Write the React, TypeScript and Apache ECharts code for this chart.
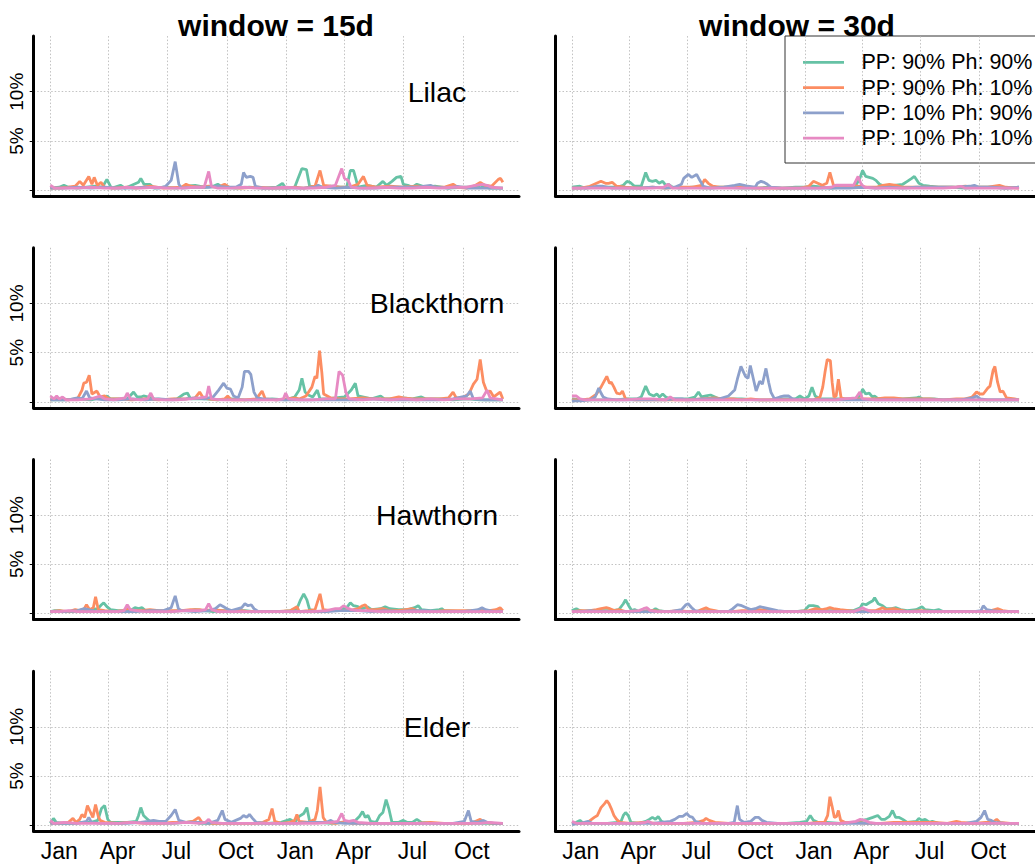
import React, { useEffect, useRef } from "react";
import * as echarts from "echarts";

// ---------- data (x = week index from Jan 1 of year 1, y = percent) ----------
const SERIES_NAMES = ["PP: 90% Ph: 90%", "PP: 90% Ph: 10%", "PP: 10% Ph: 90%", "PP: 10% Ph: 10%"];
const COLORS = ["#66c2a5", "#fc8d62", "#8da0cb", "#e78ac3"];
const COLUMN_TITLES = ["window = 15d", "window = 30d"];
const ROW_LABELS = ["Lilac", "Blackthorn", "Hawthorn", "Elder"];
const MONTH_DAYS = [0, 90, 181, 273, 365, 455, 546, 638];
const MONTH_LABELS = ["Jan", "Apr", "Jul", "Oct", "Jan", "Apr", "Jul", "Oct"];
const Y_TICKS = [0, 5, 10];
const Y_LABEL_TICKS = [5, 10];

// Lilac, 15d
const lilac15Green = [[0,0.2],[2,0.3],[3,0.5],[4,0.3],[6,0.2],[8,0.3],[10,0.4],[11.5,0.3],[12.5,1.1],[13.5,0.2],[15.5,0.5],[16.5,0.2],[18,0.5],[19.5,0.8],[20,1.2],[20.7,0.6],[22,0.6],[23,0.2],[25,0.3],[28,0.2],[30,0.4],[32,0.5],[34,0.3],[36,0.4],[37,0.6],[38,0.3],[41,0.2],[44,0.3],[47,0.2],[50,0.3],[51.3,0.7],[52,0.2],[54,0.3],[55,1.5],[55.6,2.2],[56.6,2.1],[57.3,0.4],[59,0.3],[62,0.4],[64,0.3],[65.5,0.3],[66.3,2.0],[67,2.0],[67.5,1.2],[68,0.3],[70,0.5],[72,0.3],[73.5,0.9],[74.3,0.5],[75.5,0.9],[76.5,1.3],[77.5,1.4],[78,0.6],[79,0.5],[80,0.3],[81,0.6],[83,0.3],[85,0.4],[88,0.2],[91,0.3],[94,0.3],[95,0.5],[97,0.2],[100,0.2]];
const lilac15Orange = [[0,0.2],[2,0.2],[4,0.3],[5.5,0.4],[6.5,0.9],[7.3,0.5],[8.5,1.4],[9.2,0.6],[9.7,1.3],[10.4,0.5],[11.2,0.8],[12,0.3],[14,0.2],[17,0.3],[19,0.2],[22,0.4],[25,0.2],[29,0.3],[30,0.6],[31,0.4],[33,0.3],[35,0.4],[37,0.3],[38.5,0.6],[39.5,0.3],[42,0.2],[46,0.3],[49,0.2],[52,0.2],[54,0.3],[56,0.2],[58.5,0.4],[59.6,2.0],[60.4,0.5],[62,0.4],[64,0.3],[66,0.3],[68,0.6],[69.2,1.4],[70,0.5],[72,0.3],[75,0.4],[78,0.3],[81,0.4],[84,0.3],[87,0.3],[89,0.6],[90,0.3],[92,0.2],[94,0.5],[95,0.8],[96,0.5],[97.5,0.4],[99,1.1],[99.5,1.2],[100,0.8]];
const lilac15Blue = [[0,0.2],[3,0.2],[6,0.3],[9,0.2],[12,0.3],[15,0.2],[18,0.2],[21,0.3],[24,0.2],[25.5,0.4],[26.7,1.0],[27.6,2.9],[28.4,0.6],[29,0.2],[32,0.3],[35,0.3],[37,0.4],[39,0.3],[41,0.3],[42.2,0.6],[42.7,1.8],[43.3,1.3],[44.2,1.4],[44.8,1.3],[45.3,0.4],[47,0.2],[50,0.2],[53,0.2],[56,0.2],[58.5,0.3],[59.2,0.5],[60,0.3],[63,0.2],[66,0.3],[69,0.2],[72,0.2],[75,0.3],[78,0.3],[81,0.3],[84,0.5],[85,0.3],[88,0.2],[90,0.4],[92,0.2],[95,0.2],[98,0.2],[100,0.2]];
const lilac15Pink = [[0,0.5],[1,0.2],[3,0.2],[6,0.2],[9,0.3],[12,0.2],[15,0.2],[17,0.3],[20,0.2],[23,0.3],[26,0.2],[29,0.2],[32,0.3],[34,0.3],[35,1.9],[35.6,0.4],[37,0.2],[40,0.2],[43,0.3],[46,0.2],[49,0.2],[52,0.3],[55,0.2],[58,0.2],[61,0.3],[63,0.5],[64.4,2.2],[65,1.2],[65.8,1.0],[66.5,0.3],[68,0.2],[71,0.2],[74,0.3],[77,0.2],[80,0.2],[83,0.3],[86,0.2],[89,0.3],[92,0.3],[94,0.5],[95.5,0.6],[96.5,0.5],[97.5,0.3],[100,0.2]];

// Lilac, 30d
const lilac30Green = [[0,0.3],[1.8,0.4],[3,0.2],[5,0.3],[8,0.3],[10,0.3],[11.5,0.5],[12.3,0.9],[13,0.8],[14,0.4],[15.5,0.4],[16.5,1.8],[17.2,1.0],[18,0.9],[18.8,1.0],[19.5,0.7],[20.3,0.9],[21,0.5],[21.6,0.6],[22.5,0.3],[24,0.2],[27,0.3],[30,0.2],[33,0.3],[35,0.3],[38,0.2],[41,0.2],[44,0.3],[47,0.2],[50,0.3],[52,0.3],[54,0.4],[56,0.3],[58,0.2],[60,0.3],[62,0.3],[63.5,0.5],[64.4,1.2],[65,2.0],[65.7,1.4],[66.5,1.3],[67.3,1.2],[68,1.0],[68.8,0.6],[70,0.4],[72,0.5],[74,0.6],[75,0.9],[76,1.2],[76.6,1.4],[77.6,0.7],[78.5,0.5],[80,0.4],[82,0.3],[85,0.3],[88,0.2],[91,0.3],[94,0.3],[97,0.2],[100,0.3]];
const lilac30Orange = [[0,0.2],[2,0.2],[4,0.4],[5,0.6],[6.5,0.9],[7.5,0.7],[8.2,0.7],[9,0.8],[10,0.4],[12,0.3],[15,0.2],[18,0.3],[21,0.2],[24,0.3],[27,0.3],[29,0.5],[29.7,1.1],[30.5,0.7],[31.5,0.4],[33,0.3],[36,0.3],[39,0.3],[42,0.2],[45,0.2],[48,0.2],[51,0.2],[53,0.4],[54,0.9],[55,0.7],[56,0.5],[57,0.7],[57.7,1.8],[58.5,0.5],[60,0.4],[62,0.5],[64,0.4],[66,0.3],[68,0.3],[69.5,0.5],[71,0.6],[72.5,0.5],[74,0.3],[77,0.3],[80,0.3],[83,0.3],[86,0.3],[88,0.4],[90,0.3],[93,0.3],[95.6,0.5],[97,0.3],[100,0.2]];
const lilac30Blue = [[0,0.2],[3,0.2],[5.5,0.4],[7,0.4],[9,0.2],[12,0.2],[15,0.2],[18,0.3],[21,0.2],[23,0.3],[24.5,0.6],[25,1.2],[26,1.6],[26.8,1.3],[27.9,1.6],[28.6,1.0],[29.4,0.4],[31,0.2],[34,0.3],[36.4,0.5],[37.5,0.6],[38.5,0.5],[39.3,0.4],[41,0.3],[41.5,0.7],[42.3,0.9],[43,0.8],[43.7,0.6],[44.5,0.3],[47,0.2],[50,0.2],[53,0.2],[56,0.2],[59,0.2],[62,0.2],[65,0.3],[68,0.2],[71,0.3],[74,0.2],[77,0.3],[80,0.3],[83,0.3],[86,0.3],[89,0.4],[90,0.5],[91,0.3],[94,0.3],[97,0.2],[100,0.3]];
const lilac30Pink = [[0,0.2],[3,0.2],[6,0.2],[9,0.2],[12,0.2],[15,0.2],[18,0.2],[20.5,0.3],[21.6,0.6],[22.5,0.2],[25,0.2],[28,0.2],[31,0.2],[34,0.2],[37,0.2],[40,0.2],[43,0.2],[46,0.2],[49,0.2],[52,0.2],[55,0.2],[58,0.3],[59,0.5],[61,0.5],[63,0.5],[64,1.4],[64.7,0.6],[65.5,0.3],[68,0.2],[71,0.2],[74,0.2],[77,0.2],[80,0.2],[83,0.2],[86,0.3],[87,0.4],[88,0.2],[91,0.2],[94,0.2],[97,0.2],[100,0.2]];

// Blackthorn, 15d
const black15Green = [[0,0.2],[3,0.2],[6,0.3],[9,0.2],[11,0.4],[12.5,0.6],[13.3,0.3],[15,0.3],[17,0.3],[18.4,1.0],[19.2,0.5],[20,0.5],[20.6,0.6],[21.5,0.5],[23,0.3],[26,0.2],[28,0.3],[29.5,0.8],[30.3,0.9],[31,0.3],[34,0.3],[37,0.2],[40,0.3],[43,0.2],[46,0.2],[49,0.3],[52,0.2],[54,0.5],[55,1.2],[55.6,2.4],[56.3,1.0],[57,0.7],[58,0.5],[59,1.2],[59.6,0.3],[61,0.3],[63,0.4],[65,0.5],[66.5,1.2],[67.4,1.9],[68,0.6],[69,0.5],[71,0.3],[73,0.6],[73.8,0.3],[76,0.3],[78,0.4],[80,0.3],[82,0.5],[83,0.3],[86,0.3],[89,0.2],[92,0.3],[95,0.2],[98,0.2],[100,0.2]];
const black15Orange = [[0,0.2],[2,0.3],[4,0.2],[6,0.3],[7,1.2],[7.4,1.9],[8,2.0],[8.6,2.7],[9.2,0.8],[10.3,1.1],[11,0.5],[12,0.6],[13,0.3],[15,0.3],[18,0.2],[21,0.3],[24,0.2],[27,0.3],[30,0.3],[32,0.4],[33,1.0],[33.8,0.4],[35,0.3],[37,0.2],[38.5,0.3],[39.2,0.6],[40,0.2],[43,0.2],[45.5,0.3],[46.8,1.1],[47.5,0.3],[50,0.2],[52,0.3],[54,0.4],[55,0.3],[56.5,0.6],[57.8,1.5],[58.5,2.6],[58.9,2.4],[59.5,5.2],[60,3.0],[60.4,0.8],[62,0.4],[64,0.3],[66,0.3],[69,0.4],[72,0.3],[75,0.3],[77,0.5],[78,0.4],[80,0.3],[83,0.3],[86,0.3],[88,0.4],[89,1.0],[89.7,0.4],[91,0.4],[92.5,0.8],[93.5,1.8],[94.3,2.3],[95,4.3],[95.7,2.0],[96.5,1.0],[97.2,1.1],[98,0.5],[99.4,1.0],[100,0.3]];
const black15Blue = [[0,0.2],[2,0.2],[4,0.2],[6,0.4],[7,0.3],[8,1.1],[8.7,0.4],[10,0.3],[12,0.2],[15,0.2],[18,0.3],[21,0.2],[24,0.3],[27,0.2],[30,0.3],[32,0.4],[34,0.3],[36,0.5],[37.2,1.2],[38.3,1.9],[39,1.4],[39.8,1.3],[40.5,0.6],[41.5,0.4],[42.4,1.5],[42.9,3.1],[43.8,3.1],[44.3,2.8],[45,1.0],[45.7,0.4],[47,0.3],[50,0.2],[53,0.2],[56,0.2],[59,0.2],[62,0.2],[65,0.2],[68,0.2],[71,0.3],[74,0.2],[77,0.2],[80,0.2],[83,0.2],[86,0.2],[89,0.3],[91,0.5],[92,0.6],[92.8,1.1],[93.5,0.3],[96,0.2],[98,0.2],[100,0.2]];
const black15Pink = [[0,0.6],[0.8,0.3],[1.4,0.6],[2,0.3],[2.7,0.5],[3.5,0.2],[6,0.2],[9,0.3],[11,0.6],[12,0.3],[14,0.2],[16.5,0.4],[17,0.9],[17.7,0.3],[20,0.2],[21.5,0.3],[22.2,0.9],[22.8,0.3],[25,0.2],[28,0.2],[31,0.3],[33,0.4],[34.5,0.5],[35,1.6],[35.6,0.3],[38,0.2],[41,0.2],[44,0.2],[47,0.2],[50,0.2],[51.5,0.3],[52,0.9],[52.6,0.3],[55,0.2],[58,0.2],[61,0.3],[63,0.3],[63.8,3.1],[64.6,2.7],[65.3,1.0],[66,0.3],[69,0.2],[72,0.3],[75,0.2],[78,0.3],[81,0.2],[84,0.3],[87,0.2],[90,0.3],[93,0.3],[95.5,0.4],[96.5,1.2],[97.2,0.4],[100,0.2]];

// Blackthorn, 30d
const black30Green = [[0,0.3],[2,0.2],[4,0.2],[7,0.2],[10,0.2],[12,0.3],[13,0.3],[14.5,0.3],[15.5,0.5],[16.5,1.6],[17.3,0.8],[18.3,0.6],[19,0.8],[19.6,0.5],[20.3,0.8],[21,0.5],[22,0.3],[24,0.3],[26,0.3],[27.5,0.5],[28.3,1.0],[29,0.5],[30,0.6],[31,0.7],[32,0.5],[33,0.3],[35,0.3],[38,0.3],[41,0.2],[44,0.2],[47,0.3],[50,0.3],[51,0.6],[52,0.3],[53,0.6],[53.7,1.5],[54.4,0.6],[55.5,0.3],[58,0.3],[61,0.3],[63,0.3],[64.5,0.6],[65,1.3],[65.7,0.8],[66.5,0.9],[67.2,0.5],[67.7,0.6],[68.5,0.3],[71,0.3],[74,0.3],[77,0.4],[77.6,0.5],[78.5,0.3],[81,0.3],[83,0.2],[86,0.2],[89,0.2],[92,0.2],[95,0.2],[98,0.2],[100,0.2]];
const black30Orange = [[0,0.2],[2,0.2],[4,0.3],[5.5,0.8],[6.5,1.5],[7.8,2.6],[8.4,1.9],[8.8,2.0],[9.4,1.5],[10,0.9],[10.8,0.8],[11.3,1.1],[12,0.3],[14,0.2],[17,0.2],[20,0.2],[23,0.2],[26,0.2],[29,0.3],[32,0.4],[34,0.3],[36,0.3],[38,0.2],[40,0.3],[42,0.2],[44,0.2],[47,0.2],[50,0.2],[52,0.2],[54,0.2],[55.5,0.5],[56.1,1.5],[56.6,3.0],[57.1,4.3],[57.8,4.2],[58.2,2.0],[58.6,0.5],[59.1,0.6],[59.6,2.3],[60.2,0.4],[61,0.3],[63,0.3],[65,0.3],[68,0.3],[70,0.4],[72,0.4],[74,0.3],[77,0.3],[80,0.3],[83,0.2],[86,0.3],[88,0.3],[89.5,0.5],[90.5,1.0],[91.2,0.8],[92,0.8],[93,1.4],[93.5,1.6],[94.2,3.2],[94.6,3.6],[95.2,2.0],[95.8,1.0],[96.4,1.1],[97.2,0.4],[99,0.3],[100,0.2]];
const black30Blue = [[0,0.1],[2,0.1],[4,0.2],[5.2,0.5],[6,1.4],[6.5,0.9],[7,0.5],[8,0.3],[10,0.2],[12,0.2],[15,0.2],[18,0.2],[21,0.2],[23,0.3],[24.6,0.3],[25.5,0.2],[27,0.2],[29,0.3],[31,0.3],[33,0.3],[35,0.6],[36.4,1.2],[37,2.3],[37.8,3.6],[38.3,3.1],[38.8,2.6],[39.4,2.4],[39.9,3.7],[40.5,2.5],[41.2,1.1],[42,2.1],[42.6,1.8],[43.4,3.4],[44,2.0],[44.5,1.0],[45.3,0.3],[46.5,0.5],[47.5,0.6],[48.5,0.6],[49.3,0.3],[51,0.2],[54,0.2],[57,0.2],[60,0.2],[63,0.2],[66,0.2],[69,0.2],[72,0.2],[75,0.2],[78,0.2],[81,0.2],[84,0.2],[87,0.2],[89.5,0.4],[90.5,0.6],[91.3,0.3],[93,0.2],[96,0.2],[100,0.2]];
const black30Pink = [[0,0.6],[1,0.6],[1.8,0.3],[3,0.2],[6,0.2],[9,0.2],[12,0.2],[15,0.3],[18,0.3],[21,0.2],[22,0.5],[23,0.2],[26,0.2],[29,0.2],[32,0.2],[35,0.2],[38,0.2],[41,0.2],[44,0.2],[47,0.2],[50,0.2],[53,0.2],[56,0.2],[59,0.2],[61,0.3],[63.5,0.4],[64.4,1.0],[65,0.3],[68,0.2],[71,0.2],[74,0.2],[77,0.2],[80,0.2],[83,0.2],[86,0.2],[89,0.2],[92,0.2],[95,0.2],[98,0.2],[100,0.2]];

// Hawthorn, 15d
const haw15Green = [[0,0.2],[1,0.3],[2,0.3],[3,0.2],[5,0.2],[7,0.3],[9,0.4],[10.5,0.5],[11.3,0.9],[11.8,1.1],[12.5,0.7],[13.3,0.4],[15,0.3],[17,0.3],[18,0.4],[18.7,0.6],[19.5,0.5],[20.3,0.6],[21,0.3],[23,0.2],[26,0.2],[29,0.3],[31,0.3],[32,0.4],[34,0.3],[36,0.2],[38,0.3],[41,0.3],[43,0.3],[45,0.2],[48,0.2],[51,0.2],[53,0.3],[54.5,0.5],[55.3,1.4],[56,2.0],[56.7,1.4],[57.3,0.4],[59,0.2],[62,0.3],[64,0.4],[65.5,0.6],[66.3,1.1],[67,0.8],[68,0.7],[69,0.5],[70,0.7],[71,0.4],[73,0.5],[74,0.7],[75,0.5],[77,0.4],[79,0.4],[80.5,0.6],[81.3,0.8],[82,0.4],[84,0.3],[86,0.4],[86.5,0.5],[87,0.3],[91,0.2],[94,0.3],[97,0.3],[100,0.3]];
const haw15Orange = [[0,0.2],[2,0.3],[4,0.2],[5.5,0.4],[6.5,0.3],[7.5,0.5],[8,0.9],[8.7,0.4],[9.5,0.6],[10,1.7],[10.6,0.4],[12,0.3],[14,0.2],[16,0.3],[17.3,0.5],[18,0.3],[20,0.3],[22,0.4],[24,0.3],[26,0.3],[29,0.3],[31,0.4],[33,0.4],[34,0.3],[36,0.4],[38,0.3],[40,0.2],[42,0.3],[44,0.2],[47,0.2],[50,0.2],[53,0.3],[54.5,0.7],[55,0.2],[57,0.3],[58.5,0.4],[59.6,2.0],[60.3,0.4],[62,0.3],[64,0.3],[66,0.3],[68,0.5],[69,0.8],[69.6,0.9],[70.3,0.4],[72,0.4],[73.5,0.5],[75,0.3],[77,0.3],[78.5,0.4],[80,0.5],[81,0.3],[83,0.2],[85,0.2],[87,0.3],[91,0.3],[93,0.3],[95,0.3],[97,0.3],[98.5,0.4],[99.4,0.6],[100,0.3]];
const haw15Blue = [[0,0.2],[3,0.2],[6,0.3],[7.5,0.5],[8.5,0.4],[10,0.2],[13,0.2],[16,0.2],[19,0.2],[22,0.3],[25,0.3],[26.7,0.6],[27.6,1.8],[28.3,0.5],[29,0.3],[32,0.2],[35,0.3],[36.5,0.5],[37.5,0.9],[38.3,0.7],[39,0.5],[40,0.3],[42.3,0.6],[43,1.0],[43.7,0.8],[44.4,0.9],[45,0.5],[46,0.2],[49,0.2],[52,0.2],[55,0.2],[58,0.2],[61,0.2],[64,0.3],[66,0.3],[68,0.3],[71,0.2],[74,0.3],[77,0.2],[80,0.3],[83,0.3],[86,0.2],[91,0.2],[93,0.3],[94.5,0.4],[95.4,0.6],[96.2,0.4],[98,0.2],[100,0.2]];
const haw15Pink = [[0,0.2],[2,0.2],[4,0.3],[6,0.2],[9,0.2],[12,0.2],[15,0.2],[16.3,0.3],[17,0.9],[17.7,0.4],[19,0.3],[21,0.2],[24,0.2],[27,0.2],[30,0.3],[33,0.3],[34.3,0.4],[35,1.0],[35.7,0.4],[37,0.2],[40,0.2],[43,0.2],[46,0.2],[49,0.2],[52,0.2],[55,0.2],[58,0.2],[61,0.3],[62,0.4],[63,0.5],[64,0.5],[64.8,0.8],[65.5,0.6],[66.5,0.4],[68,0.3],[70,0.3],[73,0.2],[76,0.2],[79,0.2],[82,0.2],[85,0.2],[91,0.2],[94,0.2],[97,0.2],[100,0.2]];

// Hawthorn, 30d
const haw30Green = [[0,0.3],[1,0.5],[1.8,0.3],[3,0.2],[5,0.2],[7,0.3],[9,0.3],[10.5,0.4],[11.5,1.0],[12,1.4],[12.7,0.8],[13.4,0.3],[14,0.4],[15,0.2],[17,0.3],[18,0.3],[18.7,0.5],[19.5,0.3],[21,0.2],[23,0.2],[26,0.2],[28,0.2],[30,0.3],[32,0.2],[35,0.2],[38,0.2],[41,0.3],[44,0.2],[47,0.2],[50,0.2],[52,0.3],[53,0.8],[54,0.8],[55,0.7],[55.7,0.3],[57,0.3],[60,0.3],[63,0.3],[64.5,0.6],[65,1.0],[65.8,0.9],[66.5,1.1],[67.3,1.3],[67.7,1.6],[68.5,1.0],[69.5,0.8],[70.3,0.5],[71.5,0.5],[72.5,0.6],[73.5,0.4],[75,0.3],[77,0.4],[78.3,0.7],[79,0.4],[81,0.3],[82,0.4],[83,0.2],[86,0.2],[90,0.2],[94,0.2],[97,0.2],[100,0.2]];
const haw30Orange = [[0,0.2],[2,0.3],[4,0.3],[5.5,0.4],[6.5,0.5],[7.7,0.6],[8.5,0.5],[9.5,0.3],[10.5,0.4],[12,0.2],[15,0.2],[18,0.3],[21,0.2],[24,0.3],[26,0.2],[28,0.2],[29,0.4],[30,0.6],[30.8,0.4],[32,0.3],[33,0.2],[36,0.2],[38,0.3],[40,0.3],[42,0.4],[44,0.3],[47,0.2],[50,0.2],[53,0.3],[54.5,0.5],[56,0.4],[57,0.5],[57.7,0.6],[58.5,0.5],[60,0.4],[62,0.3],[64,0.2],[66,0.3],[68,0.3],[69.5,0.6],[70.3,0.4],[72,0.5],[73,0.4],[75,0.2],[78,0.3],[81,0.2],[84,0.2],[87,0.2],[90,0.2],[93,0.2],[95.3,0.5],[96.3,0.3],[98,0.2],[100,0.2]];
const haw30Blue = [[0,0.2],[2,0.2],[4,0.3],[6,0.2],[8,0.2],[10,0.2],[13,0.2],[16,0.2],[19,0.2],[22,0.2],[24.5,0.4],[25.5,0.9],[26,1.0],[26.8,0.6],[27.5,0.3],[29,0.2],[32,0.2],[35,0.2],[36,0.5],[37,0.9],[38,0.8],[39,0.6],[40,0.4],[41,0.5],[42,0.7],[43,0.6],[44,0.5],[45,0.4],[46,0.3],[48,0.2],[51,0.2],[54,0.2],[57,0.2],[60,0.2],[63,0.2],[66,0.2],[69,0.2],[72,0.2],[75,0.2],[78,0.2],[81,0.2],[84,0.2],[87,0.2],[90,0.2],[91.5,0.3],[92,0.8],[92.8,0.4],[94,0.3],[96,0.2],[100,0.2]];
const haw30Pink = [[0,0.2],[3,0.2],[6,0.2],[9,0.2],[12,0.2],[15,0.3],[16,0.5],[16.8,0.6],[17.5,0.3],[19,0.2],[22,0.2],[25,0.2],[28,0.2],[31,0.2],[34,0.2],[37,0.2],[40,0.2],[43,0.2],[46,0.2],[49,0.2],[52,0.2],[55,0.2],[58,0.2],[61,0.2],[63,0.2],[64.2,0.4],[65,0.6],[65.8,0.4],[67,0.2],[70,0.2],[73,0.2],[76,0.2],[79,0.2],[82,0.2],[85,0.2],[88,0.2],[91,0.2],[94,0.2],[97,0.2],[100,0.2]];

// Elder, 15d
const elder15Green = [[0,0.2],[0.7,0.7],[1.3,0.3],[3,0.2],[5,0.2],[7,0.3],[9,0.3],[10.5,0.5],[11.3,1.7],[12,2.0],[12.7,0.6],[13.3,0.3],[15,0.3],[17,0.3],[19,0.4],[19.5,1.0],[20,1.8],[20.6,1.0],[21.3,0.7],[22,0.4],[24,0.2],[27,0.2],[30,0.3],[31.7,0.4],[33,0.2],[36,0.2],[39,0.2],[42,0.2],[45,0.2],[48,0.2],[51,0.3],[53,0.6],[54,0.3],[55,0.9],[56,1.2],[56.7,1.8],[57.3,0.4],[59,0.3],[62,0.2],[65,0.3],[67,0.3],[68.3,0.9],[69,1.4],[69.6,0.8],[70.2,1.0],[70.8,0.4],[72,0.3],[72.8,1.0],[73.5,1.3],[74.2,2.6],[74.8,1.7],[75.5,0.3],[77,0.3],[78,0.5],[78.8,0.3],[80,0.3],[81,0.6],[82,0.3],[85,0.2],[88,0.2],[91,0.2],[94,0.2],[97,0.2],[100,0.2]];
const elder15Orange = [[0,0.2],[2,0.2],[4,0.3],[5,0.7],[5.7,0.3],[6.5,0.6],[7,1.1],[7.6,0.8],[8.2,2.0],[8.8,1.4],[9.4,0.8],[10,2.1],[10.6,0.9],[11,0.5],[12,0.3],[15,0.2],[18,0.3],[21,0.2],[24,0.2],[27,0.3],[30,0.3],[31.5,0.4],[32.8,0.8],[33.5,0.3],[36,0.2],[39,0.2],[42,0.2],[45,0.2],[47,0.3],[48.3,0.6],[49,1.7],[49.6,0.4],[51,0.2],[53,0.3],[54,0.5],[54.5,1.1],[55,0.4],[57,0.3],[58.5,0.6],[59,1.5],[59.6,3.9],[60.3,0.8],[61,0.3],[63,0.2],[65.5,0.4],[66.5,0.2],[69,0.2],[72,0.2],[75,0.2],[78,0.2],[81,0.2],[84,0.3],[87,0.2],[90,0.2],[93,0.2],[94,0.4],[95,0.6],[95.8,0.3],[98,0.2],[100,0.2]];
const elder15Blue = [[0,0.2],[3,0.2],[6,0.2],[8,0.4],[8.5,0.8],[9.1,0.3],[11,0.2],[14,0.2],[17,0.2],[20,0.3],[21.5,0.4],[22.8,0.5],[24,0.4],[25.5,0.4],[26.7,1.0],[27.6,1.6],[28.4,0.5],[30,0.3],[33,0.3],[35,0.2],[37,0.5],[38,1.5],[38.6,0.6],[40,0.3],[42,0.7],[42.7,1.0],[43.4,0.8],[44,1.1],[44.7,0.7],[45.5,0.3],[48,0.2],[51,0.2],[54,0.2],[57,0.3],[59,0.3],[61,0.3],[62,0.5],[62.7,0.3],[65,0.2],[68,0.2],[71,0.2],[74,0.2],[77,0.2],[80,0.2],[83,0.2],[86,0.2],[89,0.2],[91.5,0.4],[92.4,1.5],[93,0.4],[94.5,0.3],[95.7,0.5],[96.5,0.3],[98,0.2],[100,0.2]];
const elder15Pink = [[0,0.5],[0.7,0.2],[3,0.3],[6,0.2],[9,0.2],[12,0.2],[15,0.2],[18,0.3],[21,0.2],[24,0.2],[27,0.2],[30,0.3],[33,0.2],[34.3,0.3],[35,0.6],[35.6,0.3],[38,0.2],[41,0.2],[44,0.2],[47,0.2],[50,0.2],[53,0.2],[56,0.2],[59,0.2],[62,0.3],[63.5,0.4],[64.4,1.2],[65,0.5],[66,0.4],[67,0.5],[68,0.3],[71,0.2],[74,0.2],[77,0.2],[80,0.2],[83,0.2],[86,0.2],[89,0.2],[92,0.2],[95,0.2],[97,0.3],[100,0.2]];

// Elder, 30d
const elder30Green = [[0,0.2],[1,0.3],[1.8,0.5],[2.5,0.2],[4,0.2],[6,0.2],[8,0.2],[10,0.3],[11,0.4],[11.5,1.0],[12,1.3],[12.6,1.0],[13.2,0.3],[15,0.2],[16.5,0.4],[17.3,0.6],[18,0.8],[18.7,0.6],[19.3,0.9],[20,0.4],[21,0.2],[24,0.2],[27,0.2],[28,0.3],[30,0.2],[33,0.2],[36,0.2],[39,0.2],[42,0.2],[45,0.2],[48,0.2],[51,0.3],[52.5,0.4],[53.3,1.0],[54,0.5],[55,0.3],[57,0.3],[60,0.2],[62,0.3],[64,0.3],[65,0.5],[66,0.6],[67.3,0.8],[68.4,1.0],[69.2,0.6],[70,0.6],[71,0.9],[71.7,1.5],[72.4,0.8],[73.2,0.8],[74,0.6],[75,0.3],[77,0.4],[77.6,0.7],[78.3,0.5],[79,0.6],[80,0.3],[80.6,0.4],[82,0.2],[85,0.2],[88,0.2],[91,0.2],[94,0.2],[97,0.2],[100,0.2]];
const elder30Orange = [[0,0.2],[2,0.2],[3.5,0.3],[5,0.8],[5.7,1.0],[6.5,1.8],[7.3,2.2],[7.8,2.5],[8.3,2.2],[8.8,1.7],[9.4,1.0],[10,0.6],[10.7,0.3],[13,0.2],[16,0.3],[19,0.2],[22,0.2],[25,0.2],[28,0.3],[29.5,0.5],[30,0.7],[30.7,0.5],[32,0.3],[35,0.2],[38,0.2],[41,0.2],[44,0.2],[47,0.2],[50,0.2],[53,0.2],[55,0.3],[56.5,0.3],[57.2,1.0],[57.7,2.9],[58.2,1.9],[58.7,0.8],[59.2,0.9],[59.6,1.5],[60.1,0.5],[61,0.3],[63,0.3],[66,0.2],[69,0.2],[72,0.3],[75,0.3],[78,0.3],[81,0.3],[84,0.2],[86,0.4],[87,0.3],[90,0.2],[92.5,0.3],[94,0.3],[95,0.6],[95.7,0.3],[98,0.2],[100,0.2]];
const elder30Blue = [[0,0.1],[2,0.2],[3.6,0.4],[4.5,0.2],[6,0.2],[9,0.2],[12,0.2],[15,0.2],[18,0.2],[20,0.3],[22,0.4],[23,0.6],[24,0.9],[24.8,0.9],[25.7,1.2],[26.3,0.9],[27,0.8],[27.6,0.4],[29,0.2],[32,0.2],[35,0.2],[36.3,0.3],[37,2.0],[37.5,0.6],[38.5,0.3],[40,0.4],[41,0.8],[41.8,0.8],[42.5,0.5],[43.5,0.3],[46,0.2],[49,0.2],[52,0.2],[55,0.2],[58,0.2],[61,0.2],[64,0.2],[67,0.2],[70,0.2],[73,0.2],[76,0.2],[79,0.2],[82,0.2],[85,0.2],[88,0.2],[90.5,0.4],[91.5,0.8],[92.3,1.5],[93,0.6],[93.8,0.5],[94.5,0.3],[97,0.2],[100,0.2]];
const elder30Pink = [[0,0.4],[1,0.2],[3,0.2],[6,0.2],[9,0.2],[12,0.2],[15,0.2],[16.5,0.3],[17,0.4],[18,0.2],[21,0.2],[24,0.2],[27,0.2],[30,0.2],[33,0.2],[36,0.2],[39,0.2],[42,0.2],[45,0.2],[48,0.2],[51,0.2],[54,0.2],[57,0.2],[60,0.2],[62,0.3],[63.5,0.4],[64.5,0.6],[65.5,0.5],[66.5,0.3],[68,0.2],[71,0.2],[74,0.2],[77,0.2],[80,0.2],[83,0.2],[86,0.2],[89,0.2],[92,0.2],[95,0.2],[98,0.2],[100,0.2]];

// panels: [row][col] -> 4 series in SERIES_NAMES order
const PANELS = [
  [[lilac15Green, lilac15Orange, lilac15Blue, lilac15Pink], [lilac30Green, lilac30Orange, lilac30Blue, lilac30Pink]],
  [[black15Green, black15Orange, black15Blue, black15Pink], [black30Green, black30Orange, black30Blue, black30Pink]],
  [[haw15Green, haw15Orange, haw15Blue, haw15Pink], [haw30Green, haw30Orange, haw30Blue, haw30Pink]],
  [[elder15Green, elder15Orange, elder15Blue, elder15Pink], [elder30Green, elder30Orange, elder30Blue, elder30Pink]],
];

// ---------- layout ----------
const W = 1035;
const H = 866;
const FONT = "'Liberation Sans', Arial, Helvetica, sans-serif";
const COL_LEFT = [33.7, 555.5];
const COL_WIDTH = 485.3;
const ROW_TOP = [36.1, 247.8, 459.5, 671.2];
const ROW_HEIGHT = 160;
const X_MIN = -25.7;
const X_MAX = 725;
const Y_MIN = -0.6;
const Y_MAX = 15.65;

export default function App() {
  const ref = useRef<HTMLDivElement>(null);

  useEffect(() => {
    document.body.style.margin = "0";
    if (!ref.current) return;
    const chart = echarts.init(ref.current, undefined, { renderer: "svg" });

    const grids: any[] = [];
    const xAxes: any[] = [];
    const yAxes: any[] = [];
    const series: any[] = [];
    const graphics: any[] = [];
    const gridStyle = { color: "#b3b3b3", width: 0.8, type: [1.5, 2] };

    for (let r = 0; r < 4; r++) {
      for (let c = 0; c < 2; c++) {
        const g = r * 2 + c;
        grids.push({ left: COL_LEFT[c], top: ROW_TOP[r], width: COL_WIDTH, height: ROW_HEIGHT, containLabel: false });
        xAxes.push({
          type: "value",
          gridIndex: g,
          min: X_MIN,
          max: X_MAX,
          axisLine: { show: true, onZero: false, lineStyle: { color: "#000", width: 3 } },
          axisTick: { show: false, customValues: MONTH_DAYS },
          splitLine: { show: true, lineStyle: gridStyle },
          axisLabel: {
            show: r === 3,
            customValues: MONTH_DAYS.map((d) => d + 14),
            formatter: (v: number) => {
              const i = MONTH_DAYS.findIndex((d) => Math.abs(d + 14 - v) < 0.5);
              return i >= 0 ? MONTH_LABELS[i] : "";
            },
            color: "#000",
            fontSize: 23,
            fontFamily: FONT,
            margin: 8,
          },
        });
        yAxes.push({
          type: "value",
          gridIndex: g,
          min: Y_MIN,
          max: Y_MAX,
          axisLine: { show: true, onZero: false, lineStyle: { color: "#000", width: 3 } },
          axisTick: { show: c === 0, customValues: Y_TICKS, length: 4, lineStyle: { color: "#000", width: 1 } },
          splitLine: { show: true, lineStyle: gridStyle },
          axisLabel: {
            show: c === 0,
            customValues: Y_LABEL_TICKS,
            formatter: (v: number) => `${v}%`,
            rotate: 90,
            color: "#000",
            fontSize: 19,
            fontFamily: FONT,
            margin: 8,
          },
        });
        PANELS[r][c].forEach((pts, k) => {
          series.push({
            type: "line",
            name: SERIES_NAMES[k],
            xAxisIndex: g,
            yAxisIndex: g,
            data: pts.map(([w, v]) => [w * 7, v]),
            showSymbol: false,
            symbol: "none",
            lineStyle: { color: COLORS[k], width: 2.8 },
            itemStyle: { color: COLORS[k] },
          });
        });
      }
      // row label
      graphics.push({
        type: "text",
        x: 437,
        y: ROW_TOP[r] + ((Y_MAX - 10) / (Y_MAX - Y_MIN)) * ROW_HEIGHT,
        z: 50,
        style: { text: ROW_LABELS[r], fill: "#000", font: `28.5px ${FONT}`, align: "center", verticalAlign: "middle" },
      });
    }

    // column titles
    [276, 797].forEach((cx, i) => {
      graphics.push({
        type: "text",
        x: cx,
        y: 25,
        z: 50,
        style: { text: COLUMN_TITLES[i], fill: "#000", font: `bold 30px ${FONT}`, align: "center", verticalAlign: "middle" },
      });
    });

    // legend box
    const legendChildren: any[] = [
      { type: "rect", shape: { x: 785, y: 36, width: 270, height: 127 }, style: { fill: "#fff", stroke: "#333", lineWidth: 1 } },
    ];
    const rowsY = [62.3, 87.6, 112.9, 138.2];
    SERIES_NAMES.forEach((name, k) => {
      legendChildren.push({
        type: "line",
        shape: { x1: 803, y1: rowsY[k], x2: 844, y2: rowsY[k] },
        style: { stroke: COLORS[k], lineWidth: 2.8 },
      });
      legendChildren.push({
        type: "text",
        x: 861.5,
        y: rowsY[k],
        style: { text: name, fill: "#000", font: `21.5px ${FONT}`, align: "left", verticalAlign: "middle" },
      });
    });
    graphics.push({ type: "group", z: 100, children: legendChildren });

    chart.setOption({
      animation: false,
      backgroundColor: "#fff",
      grid: grids,
      xAxis: xAxes,
      yAxis: yAxes,
      series,
      graphic: graphics,
    });

    return () => chart.dispose();
  }, []);

  return <div ref={ref} style={{ width: W, height: H }} />;
}
